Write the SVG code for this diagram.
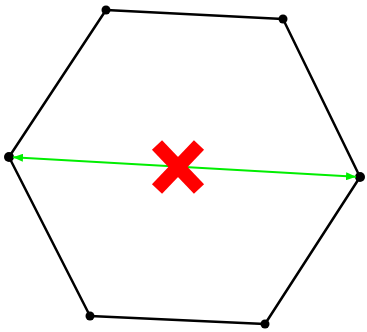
<svg xmlns="http://www.w3.org/2000/svg" width="367" height="332" viewBox="0 0 367 332">
<style>
.edge{stroke:#000;stroke-width:2.5;fill:none;stroke-linejoin:round}
.dot{fill:#000}
.dim{stroke:#00ee00;stroke-width:2;fill:none}
.cross{stroke:#f00;stroke-width:14;stroke-linecap:butt}
</style>
<defs>
<marker id="ah" viewBox="0 0 10 8" refX="10" refY="4" markerWidth="10" markerHeight="8" markerUnits="userSpaceOnUse" orient="auto-start-reverse">
<path d="M0,0 L10,4 L0,8 Z" fill="#00ee00"/>
</marker>
</defs>
<g id="hexagon">
<polygon class="edge" points="106,10 283,19 360,177 265,324 90,316 9,157"/>
</g>
<g id="vertices">
<circle class="dot" cx="106" cy="10" r="4.5"/>
<circle class="dot" cx="283" cy="19" r="4.5"/>
<circle class="dot" cx="360" cy="177" r="5"/>
<circle class="dot" cx="265" cy="324" r="4.5"/>
<circle class="dot" cx="90" cy="316" r="4.5"/>
<circle class="dot" cx="9" cy="157" r="5"/>
</g>
<g id="connectors">
<line class="dim" x1="13" y1="157.2" x2="356" y2="176.8" marker-start="url(#ah)" marker-end="url(#ah)"/>
</g>
<g id="center-mark">
<line class="cross" x1="157" y1="145" x2="199" y2="189"/>
<line class="cross" x1="199" y1="145" x2="157" y2="189"/>
</g>
</svg>
